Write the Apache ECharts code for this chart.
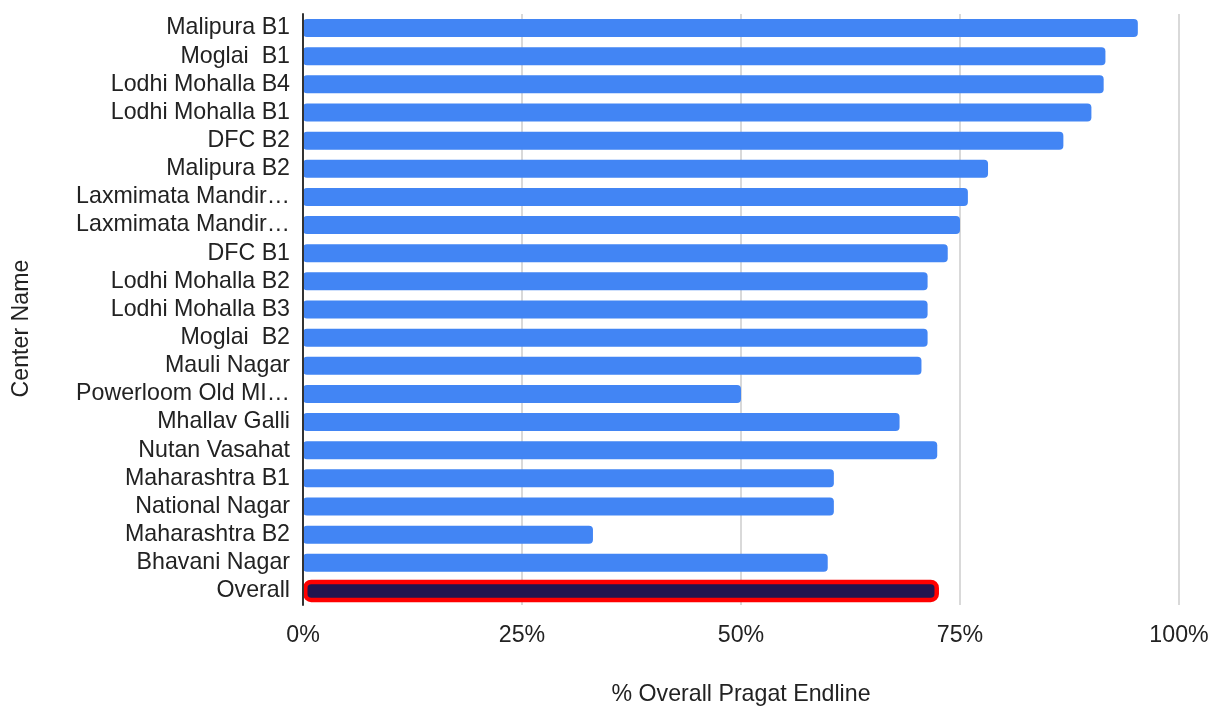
<!DOCTYPE html>
<html>
<head>
<meta charset="utf-8">
<script src="https://cdn.jsdelivr.net/npm/echarts@6/dist/echarts.min.js"></script>
<style>
  html, body { margin: 0; padding: 0; background: #fff; }
  #chart { width: 1222px; height: 709px; }
</style>
</head>
<body>
<div id="chart"></div>
<script>
// Centres, listed top to bottom
const centers = [
  'Malipura B1', 'Moglai  B1', 'Lodhi Mohalla B4', 'Lodhi Mohalla B1', 'DFC B2',
  'Malipura B2', 'Laxmimata Mandir…', 'Laxmimata Mandir…', 'DFC B1',
  'Lodhi Mohalla B2', 'Lodhi Mohalla B3', 'Moglai  B2', 'Mauli Nagar',
  'Powerloom Old MI…', 'Mhallav Galli', 'Nutan Vasahat', 'Maharashtra B1',
  'National Nagar', 'Maharashtra B2', 'Bhavani Nagar', 'Overall'
];
// % Overall Pragat Endline (fraction)
const pragatEndline = [
  0.953, 0.916, 0.914, 0.900, 0.868,
  0.782, 0.759, 0.750, 0.736,
  0.713, 0.713, 0.713, 0.706,
  0.500, 0.681, 0.724, 0.606,
  0.606, 0.331, 0.599, 0.726
];
const xTicks = [0, 0.25, 0.5, 0.75, 1];

const font = 'Liberation Sans, Arial, sans-serif';
const fontSize = 23.2;
const overallName = 'Overall';

// Centre bars and the highlighted overall bar go in separate series
const centreData = pragatEndline.map((v, i) => centers[i] === overallName ? '-' : v);
const overallData = pragatEndline.map((v, i) => centers[i] === overallName ? v : '-');

const chart = echarts.init(document.getElementById('chart'), null, { renderer: 'canvas' });
chart.setOption({
  animation: false,
  backgroundColor: '#ffffff',
  grid: { left: 303, right: 43, top: 14, bottom: 104, containLabel: false, outerBoundsMode: 'none' },
  xAxis: {
    type: 'value',
    min: xTicks[0],
    max: xTicks[xTicks.length - 1],
    interval: 0.25,
    name: '% Overall Pragat Endline',
    nameLocation: 'middle',
    nameGap: 78,
    nameTextStyle: { fontFamily: font, fontSize: fontSize, color: '#222' },
    axisLine: { show: false },
    axisTick: { show: false },
    axisLabel: {
      fontFamily: font, fontSize: fontSize, color: '#222', margin: 19,
      formatter: v => Math.round(v * 100) + '%'
    },
    splitLine: { show: true, lineStyle: { color: '#cccccc', width: 1.5 } }
  },
  yAxis: [{
    type: 'category',
    inverse: true,
    data: centers,
    name: 'Center Name',
    nameLocation: 'middle',
    nameGap: 270,
    nameRotate: 90,
    nameTextStyle: { fontFamily: font, fontSize: fontSize, color: '#222', padding: [0, 38, 0, 0] },
    axisLine: { show: true, onZero: false, lineStyle: { color: '#333', width: 2 } },
    axisTick: { show: false },
    axisLabel: { fontFamily: font, fontSize: fontSize, color: '#222', margin: 13, interval: 0 },
    splitLine: { show: false },
    z: 5
  }, {
    type: 'category',
    inverse: true,
    data: centers,
    show: false
  }],
  series: [{
    type: 'bar',
    yAxisIndex: 0,
    data: centreData,
    barWidth: 18,
    itemStyle: { color: '#4285f4', borderRadius: 4 }
  }, {
    type: 'bar',
    yAxisIndex: 1,
    data: overallData,
    barWidth: 22.5,
    itemStyle: { color: '#21154f', borderColor: '#ff0000', borderWidth: 4.5, borderRadius: 6 }
  }]
});
</script>
</body>
</html>
